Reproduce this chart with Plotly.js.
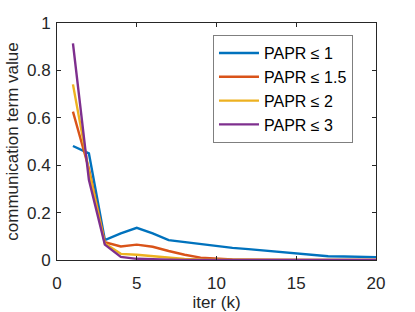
<!DOCTYPE html>
<html><head><meta charset="utf-8">
<script src="https://cdn.plot.ly/plotly-3.0.1.min.js"></script>
<style>html,body{margin:0;padding:0;background:#fff}#c{width:415px;height:312px}</style>
</head><body><div id="c"></div>
<script>
const iters = [1,2,3,4,5,6,7,8,9,10,11,12,13,14,15,16,17,18,19,20];
const papr1  = [0.481,0.45,0.084,0.112,0.136,0.112,0.084,0.076,0.067,0.057,0.051,0.046,0.04,0.033,0.025,0.019,0.016,0.015,0.014,0.012];
const papr15 = [0.626,0.385,0.075,0.057,0.065,0.056,0.038,0.022,0.01,0.005,0.002,0.001,0,0,0,0,0,0,0,0];
const papr2  = [0.741,0.375,0.07,0.026,0.022,0.015,0.009,0.004,0.002,0.001,0,0,0,0,0,0,0,0,0,0];
const papr3  = [0.914,0.338,0.065,0.013,0.005,0.002,0.001,0,0,0,0,0,0,0,0,0,0,0,0,0];
const names = ['PAPR ≤ 1','PAPR ≤ 1.5','PAPR ≤ 2','PAPR ≤ 3'];
const colors = ['#0072BD','#D95319','#EDB120','#7E2F8E'];
const series = [papr1,papr15,papr2,papr3];
const traces = series.map((s,i)=>({x:iters,y:s,type:'scatter',mode:'lines',name:names[i],
  line:{color:colors[i],width:2.4}}));
const font = {family:'Liberation Sans, Arial, sans-serif',size:17,color:'#262626'};
const axisCommon = {showgrid:false,zeroline:false,showline:true,mirror:'ticks',linecolor:'#262626',linewidth:1,
  ticks:'inside',ticklen:4,tickcolor:'#262626',tickfont:font};
const layout = {
  width:415,height:312,margin:{l:57,r:39,t:23,b:52},
  paper_bgcolor:'#fff',plot_bgcolor:'#fff',font:font,
  xaxis:Object.assign({},axisCommon,{range:[0,20],tickvals:[0,5,10,15,20],ticktext:['0','5','10','15','20'],
    ticklabelstandoff:8,title:{text:'iter (k)',font:font,standoff:4}}),
  yaxis:Object.assign({},axisCommon,{range:[0,1],tickvals:[0,0.2,0.4,0.6,0.8,1],ticktext:['0','0.2','0.4','0.6','0.8','1'],
    ticklabelstandoff:2,title:{text:'communication term value',font:font,standoff:4}}),
  legend:{x:0.489,y:0.949,xanchor:'left',yanchor:'top',bgcolor:'#fff',bordercolor:'#7f7f7f',borderwidth:1,
    font:{family:'Liberation Sans, Arial, sans-serif',size:16,color:'#000'},tracegroupgap:0,itemwidth:40},
  showlegend:true
};
Plotly.newPlot('c',traces,layout,{staticPlot:true,displayModeBar:false});
</script></body></html>
